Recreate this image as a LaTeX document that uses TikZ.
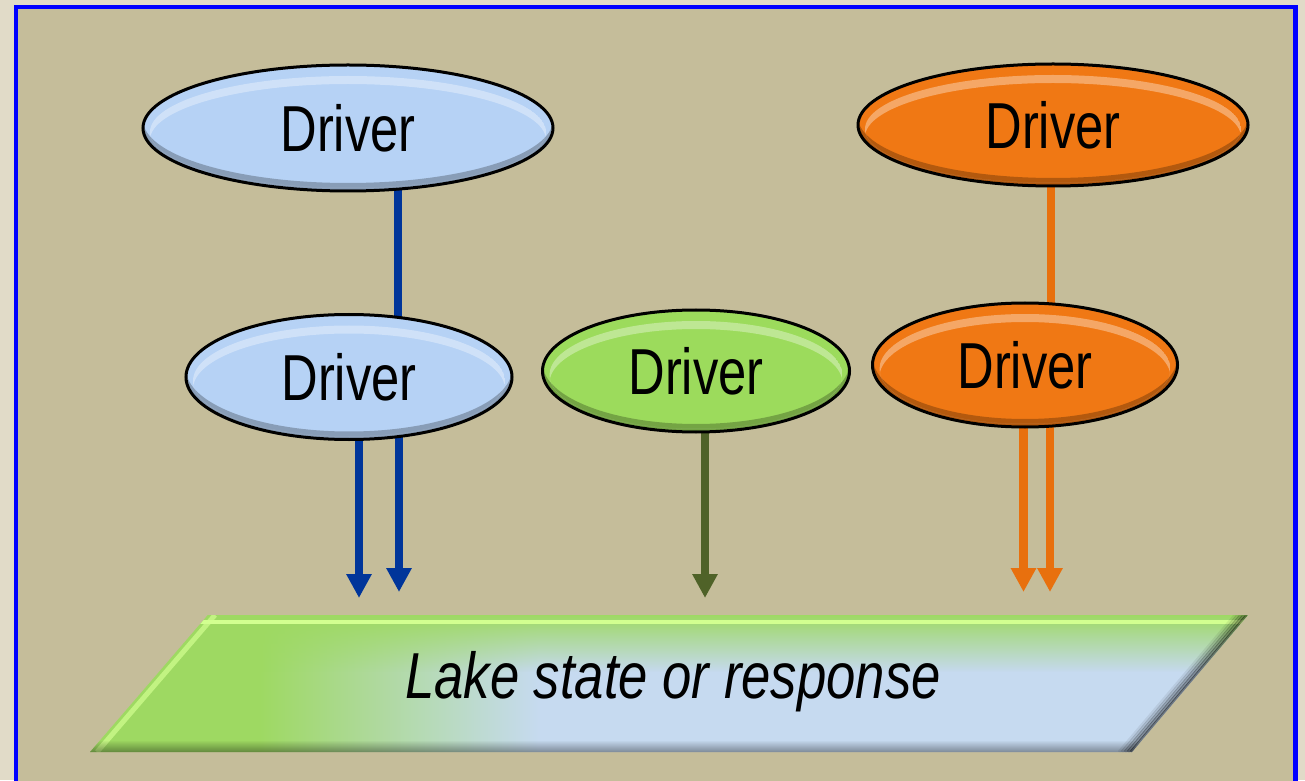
\documentclass[tikz,border=0pt]{standalone}
\usepackage{fontspec}
\usetikzlibrary{arrows.meta,shapes.geometric,fadings,calc}
\newfontfamily\drvfont[FakeStretch=0.78]{Liberation Sans}
\newfontfamily\lakefont[FakeStretch=0.81]{Liberation Sans}
\definecolor{outerbg}{HTML}{E1DBC8}
\definecolor{innerbg}{HTML}{C5BD9A}
\definecolor{frameblue}{HTML}{0000FF}
\definecolor{elblue}{HTML}{B6D2F5}
\definecolor{elgreen}{HTML}{9CDB5C}
\definecolor{elorange}{HTML}{F07814}
\definecolor{blueline}{HTML}{00359A}
\definecolor{greenline}{HTML}{4F6228}
\definecolor{orangeline}{HTML}{E8700E}
\definecolor{lkgreen}{HTML}{9ED962}
\definecolor{lkblue}{HTML}{C6DAF0}
\definecolor{lkhl}{HTML}{D2FF90}
\pgfdeclarelayer{back}
\pgfdeclarelayer{bg}
\pgfsetlayers{back,bg,main}
\tikzset{
  drv/.style={ellipse, draw=black, line width=3pt, inner sep=0pt,
    font=\drvfont\fontsize{65}{70}\selectfont},
  conn/.style={line width=8.5pt},
  arr/.style={line width=8.5pt, -{Triangle[width=24pt,length=24pt]}},
}
\newcommand\drvdeco[4]{%
  \begin{scope}
    \clip (#1,#2) ellipse [x radius=#3-1.5, y radius=#4-1.5];
    \fill[black,opacity=.25,even odd rule] (#1,#2) ellipse [x radius=#3, y radius=#4]
      (#1,#2+8) ellipse [x radius=#3, y radius=#4];
    \begin{scope}
      \clip (#1,#2-4) ellipse [x radius=#3-7, y radius=#4-7];
      \fill[white,opacity=.35,even odd rule] (#1,#2-4) ellipse [x radius=#3-7, y radius=#4-7]
        (#1,#2-12) ellipse [x radius=#3-7, y radius=#4-7];
    \end{scope}
  \end{scope}}
\begin{document}
\begin{tikzpicture}[x=1pt,y=1pt]
\useasboundingbox (0,0) rectangle (1305,780);
\begin{pgfonlayer}{back}
  \fill[outerbg] (0,0) rectangle (1305,780);
  \fill[innerbg] (16,-10) rectangle (1295.5,773);
  \draw[frameblue, line width=4.5pt] (16,-10) rectangle (1295.5,773);
\end{pgfonlayer}

% Lake shape
\coordinate (bl) at (90,28);
\coordinate (tl) at (208,165);
\coordinate (tr) at (1248,165);
\coordinate (br) at (1132,28);
\begin{scope}
  \clip (bl) -- (tl) -- (tr) -- (br) -- cycle;
  \fill[lkgreen] (80,20) rectangle (260,170);
  \shade[left color=lkgreen, right color=lkblue] (260,20) rectangle (540,170);
  \fill[lkblue] (540,20) rectangle (1260,170);
  \fill[lkgreen, path fading=south] (80,108) rectangle (1260,166);
  \draw[lkhl, line width=4pt] (80,158) -- (1260,158);
  \draw[lkhl, opacity=.7, line width=5pt] ($(bl)+(7,0)$) -- ($(tl)+(7,0)$);
  \fill[black, opacity=.4, path fading=north] (80,27) rectangle (1260,40);
  \foreach \i/\o in {1/.45,4/.35,7/.25,10/.15,13/.07}
    \draw[black, opacity=\o, line width=3pt] ($(br)+(-\i,0)$) -- ($(tr)+(-\i,0)$);
\end{scope}
\node[anchor=base, font=\lakefont\itshape\fontsize{65}{70}\selectfont] (lake) at (673,82) {Lake state or response};

% Driver ellipses
\node[drv, fill=elblue, minimum width=410pt, minimum height=126pt] (e1) at (348,652) {Driver};
\drvdeco{348}{652}{205}{63}
\node[drv, fill=elblue, minimum width=326pt, minimum height=125pt] (e2) at (349,403) {Driver};
\drvdeco{349}{403}{163}{62.5}
\node[drv, fill=elgreen, minimum width=307pt, minimum height=122pt] (e3) at (696,409) {Driver};
\drvdeco{696}{409}{153.5}{61}
\node[drv, fill=elorange, minimum width=390pt, minimum height=122pt] (e4) at (1053,655) {Driver};
\drvdeco{1053}{655}{195}{61}
\node[drv, fill=elorange, minimum width=305pt, minimum height=124pt] (e5) at (1025,415) {Driver};
\drvdeco{1025}{415}{152.5}{62}

% Arrow tips
\coordinate (t1) at (359,182);
\coordinate (t2) at (399,188);
\coordinate (t3) at (705,182);
\coordinate (t4) at (1023.5,188);
\coordinate (t5) at (1050,188);

\begin{pgfonlayer}{bg}
  \draw[conn, blueline] ([xshift=50pt]e1.center) -- ([xshift=49pt]e2.center);
  \draw[conn, orangeline] ([xshift=-2pt]e4.center) -- ([xshift=26pt]e5.center);
  \draw[arr, blueline] (t1 |- e2.center) -- (t1);
  \draw[arr, blueline] (t2 |- e2.center) -- (t2);
  \draw[arr, greenline] (t3 |- e3.center) -- (t3);
  \draw[arr, orangeline] (t4 |- e5.center) -- (t4);
  \draw[arr, orangeline] (t5 |- e5.center) -- (t5);
\end{pgfonlayer}
\end{tikzpicture}
\end{document}
